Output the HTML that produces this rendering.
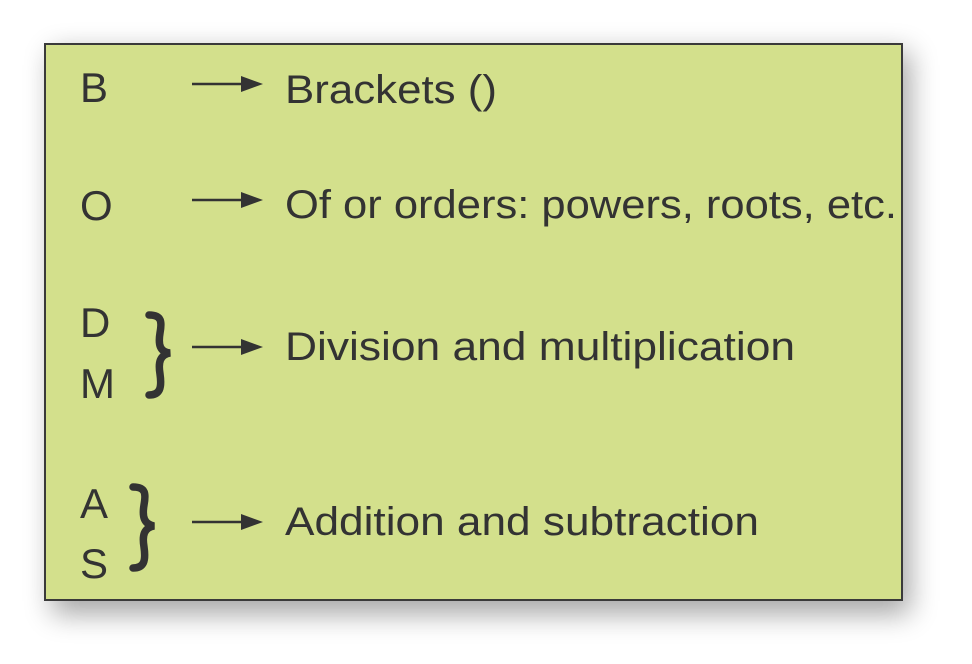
<!DOCTYPE html>
<html><head><style>
html,body{margin:0;padding:0;background:#fff;}
</style></head><body>
<svg width="972" height="659" xmlns="http://www.w3.org/2000/svg">
<defs>
<filter id="sh" x="-10%" y="-10%" width="120%" height="125%">
<feGaussianBlur stdDeviation="14"/>
</filter>
</defs>
<rect x="52" y="52" width="858" height="562" fill="#000" opacity="0.35" filter="url(#sh)"/>
<rect x="45" y="44" width="857" height="556" fill="#d3e08c" stroke="#3a3a3a" stroke-width="2"/>
<g font-family="Liberation Sans, sans-serif" fill="#333" font-size="40">
<text x="80" y="102" font-size="42">B</text>
<text x="80" y="220" font-size="42">O</text>
<text x="80" y="337" font-size="42">D</text>
<text x="80" y="398" font-size="42">M</text>
<text x="80" y="518" font-size="42">A</text>
<text x="80" y="578" font-size="42">S</text>
<text x="285" y="103" textLength="212" lengthAdjust="spacingAndGlyphs">Brackets  ()</text>
<text x="285" y="218" textLength="612" lengthAdjust="spacingAndGlyphs">Of or orders: powers, roots, etc.</text>
<text x="285" y="360" textLength="510" lengthAdjust="spacingAndGlyphs">Division and multiplication</text>
<text x="285" y="535" textLength="474" lengthAdjust="spacingAndGlyphs">Addition and subtraction</text>
</g>
<g stroke="#333" stroke-width="2.5" fill="#333">
<line x1="192" y1="84" x2="245" y2="84"/><polygon points="241,76 263,84 241,92" stroke="none"/>
<line x1="192" y1="200" x2="245" y2="200"/><polygon points="241,192 263,200 241,208" stroke="none"/>
<line x1="192" y1="347" x2="245" y2="347"/><polygon points="241,339 263,347 241,355" stroke="none"/>
<line x1="192" y1="522" x2="245" y2="522"/><polygon points="241,514 263,522 241,530" stroke="none"/>
</g>
<g fill="none" stroke="#333" stroke-width="7.5" stroke-linecap="round">
<path d="M149,315 C162,315 162,322 160,333 C158,345 160,352 170,353 C160,355 158,362 160,374 C162,388 160,395 149,395"/>
<path d="M133,487 C146,487 146,494 144,505 C142,517 144,524 154,526 C144,528 142,535 144,547 C146,561 144,568 133,568"/>
</g>
</svg>
</body></html>
